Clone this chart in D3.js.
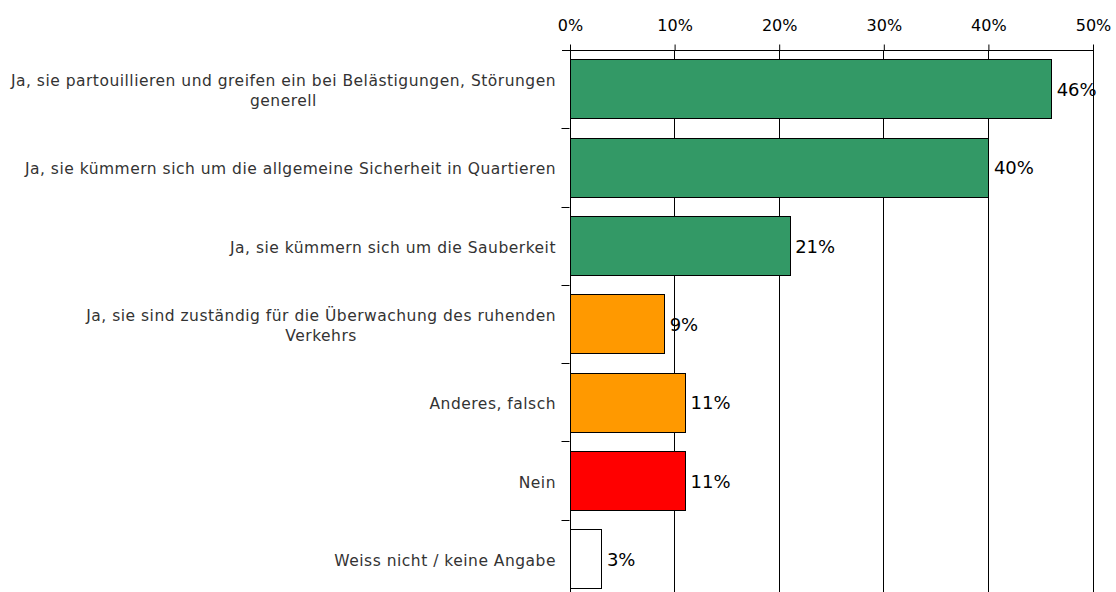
<!DOCTYPE html>
<html>
<head>
<meta charset="utf-8">
<script src="https://cdn.jsdelivr.net/npm/d3@7/dist/d3.min.js"></script>
<style>
html, body { margin: 0; padding: 0; background: #fff; }
svg { display: block; }
</style>
</head>
<body>
<svg id="chart" width="1116" height="592"></svg>
<script>
const categories = [
  "Ja, sie partouillieren und greifen ein bei Belästigungen, Störungen\ngenerell",
  "Ja, sie kümmern sich um die allgemeine Sicherheit in Quartieren",
  "Ja, sie kümmern sich um die Sauberkeit",
  "Ja, sie sind zuständig für die Überwachung des ruhenden\nVerkehrs",
  "Anderes, falsch",
  "Nein",
  "Weiss nicht / keine Angabe"
];
const values = [46, 40, 21, 9, 11, 11, 3];
const barColors = ["#339966", "#339966", "#339966", "#FF9900", "#FF9900", "#FF0000", "#FFFFFF"];
const tickValues = [0, 10, 20, 30, 40, 50];

(function () {
const svg = d3.select("#chart");
const pLeft = 569.5, pRight = 1092.5, pTop = 50, pBottom = 598;
const FONT = "DejaVu Sans, Verdana, sans-serif";

const x = d3.scaleLinear().domain([0, 50]).range([pLeft, pRight]);
const y = d3.scaleBand().domain(d3.range(categories.length)).range([pTop, pBottom])
  .paddingInner(0.24).paddingOuter(0.12);

// gridlines
svg.append("g").selectAll("line").data(tickValues.slice(1)).join("line")
  .attr("x1", d => Math.round(x(d)) + 0.5).attr("x2", d => Math.round(x(d)) + 0.5)
  .attr("y1", pTop).attr("y2", pBottom)
  .attr("stroke", "#000").attr("stroke-width", 1);

// bars
svg.append("g").selectAll("rect").data(values).join("rect")
  .attr("x", Math.round(x(0)) + 0.5)
  .attr("y", (d, i) => Math.round(y(i)) + 0.5)
  .attr("width", d => Math.round(x(d) - x(0)))
  .attr("height", Math.round(y.bandwidth()))
  .attr("fill", (d, i) => barColors[i])
  .attr("stroke", "#000").attr("stroke-width", 1);

// top axis
const xAxis = d3.axisTop(x).tickValues(tickValues).tickFormat(d => d + "%")
  .tickSize(6).tickSizeOuter(0);
const gx = svg.append("g").attr("transform", `translate(0.5,${pTop + 0.5})`).call(xAxis);
gx.select(".domain").attr("stroke", "#000").attr("d", `M${pLeft - 8},0H${pRight}`);
gx.selectAll(".tick line").attr("stroke", "#000");
gx.selectAll(".tick text").attr("font-family", FONT)
  .attr("font-size", 16).attr("fill", "#000").attr("y", -20).attr("dy", "0");

// left axis line + category ticks at band boundaries
const gy = svg.append("g");
gy.append("line").attr("x1", Math.round(pLeft) + 0.5).attr("x2", Math.round(pLeft) + 0.5)
  .attr("y1", pTop).attr("y2", pBottom).attr("stroke", "#000");
const step = y.step();
gy.selectAll(".ct").data(d3.range(1, categories.length)).join("line").attr("class", "ct")
  .attr("x1", pLeft - 8).attr("x2", pLeft)
  .attr("y1", d => Math.round(pTop + d * step) + 0.5).attr("y2", d => Math.round(pTop + d * step) + 0.5)
  .attr("stroke", "#000");

// category labels
const labelRight = 556;
const lineH = 20;
const lab = svg.append("g").attr("font-family", FONT)
  .attr("font-size", 15.5).attr("letter-spacing", 0.5).attr("fill", "#333");
categories.forEach((c, i) => {
  const lines = c.split("\n");
  const cy = y(i) + y.bandwidth() / 2;
  const t = lab.append("text").attr("text-anchor", "middle");
  lines.forEach((ln, j) => {
    t.append("tspan").attr("y", cy + 7 + (j - (lines.length - 1) / 2) * lineH).text(ln);
  });
  let maxW = 0;
  t.selectAll("tspan").each(function () { maxW = Math.max(maxW, this.getComputedTextLength()); });
  t.selectAll("tspan").attr("x", labelRight - maxW / 2);
});

// value labels
svg.append("g").selectAll("text").data(values).join("text")
  .attr("x", d => x(d) + 6)
  .attr("y", (d, i) => y(i) + y.bandwidth() / 2 + 7)
  .attr("font-family", FONT)
  .attr("font-size", 18).attr("fill", "#000")
  .text(d => d + "%");
})();
</script>
</body>
</html>
